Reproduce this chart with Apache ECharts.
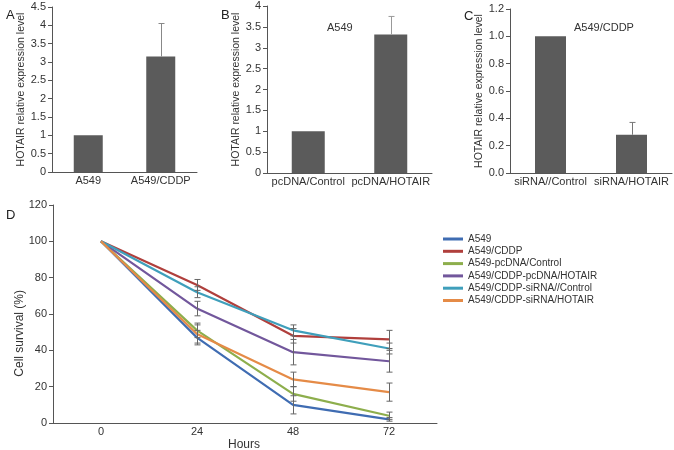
<!DOCTYPE html>
<html>
<head>
<meta charset="utf-8">
<script src="https://cdn.jsdelivr.net/npm/echarts@6/dist/echarts.min.js"></script>
<style>
  html, body { margin: 0; padding: 0; background: #fff; }
  #chart { width: 674px; height: 450px; }
</style>
</head>
<body>
<div id="chart"></div>
<script>
// panel A
var catsA = ["A549", "A549/CDDP"];
var valsA = [1, 3.15];
var errA = [0, 0.9];
// panel B
var catsB = ["pcDNA/Control", "pcDNA/HOTAIR"];
var valsB = [1, 3.32];
var errB = [0, 0.43];
// panel C
var catsC = ["siRNA//Control", "siRNA/HOTAIR"];
var valsC = [1, 0.28];
var errC = [0, 0.09];
// panel D
var hours = ["0", "24", "48", "72"];
var lineNames = ["A549", "A549/CDDP", "A549-pcDNA/Control", "A549/CDDP-pcDNA/HOTAIR",
  "A549/CDDP-siRNA//Control", "A549/CDDP-siRNA/HOTAIR"];
var survA549 = [100, 47, 10, 2];
var survCDDP = [100, 76, 48, 46];
var survPcCtrl = [100, 51, 16, 4];
var survPcHot = [100, 63, 39, 34];
var survSiCtrl = [100, 72, 51, 41];
var survSiHot = [100, 49, 24, 17];
var errA549 = [0, 4, 5, 1];
var errCDDP = [0, 3, 4, 5];
var errPcCtrl = [0, 4, 4, 2];
var errPcHot = [0, 4, 7, 6];
var errSiCtrl = [0, 3, 3, 3];
var errSiHot = [0, 5, 4, 5];
var lineColors = ["#3f6cb2", "#b03f3c", "#8dae4c", "#72579c", "#3f9fbb", "#e58b47"];

var FONT = "'Liberation Sans Narrow', 'Liberation Sans', Arial, sans-serif";
var TXT = "#333";

var myChart = echarts.init(document.getElementById("chart"));

function errRender(both, capW, color) {
  return function (params, api) {
    var x = api.value(0), y = api.value(1), e = api.value(2);
    if (!e) return null;
    var top = api.coord([x, y + e]);
    var bot = api.coord([x, both ? y - e : y]);
    var cx = Math.round(top[0]) + 0.5;
    var st = { stroke: color, lineWidth: 1 };
    var kids = [
      { type: "line", shape: { x1: cx, y1: top[1], x2: cx, y2: bot[1] }, style: st },
      { type: "line", shape: { x1: cx - capW, y1: top[1], x2: cx + capW, y2: top[1] }, style: st }
    ];
    if (both) {
      kids.push({ type: "line", shape: { x1: cx - capW, y1: bot[1], x2: cx + capW, y2: bot[1] }, style: st });
    }
    return { type: "group", children: kids };
  };
}

function pack(vals, errs) {
  return vals.map(function (v, i) { return [i, v, errs[i]]; });
}

function catAxis(idx, cats) {
  return {
    type: "category", gridIndex: idx, data: cats,
    axisLine: { lineStyle: { color: "#555" } },
    axisTick: { length: 4, lineStyle: { color: "#555" } },
    axisLabel: { color: TXT, fontFamily: FONT, fontSize: 11, margin: 3, interval: 0 }
  };
}
function valAxis(idx, max, step, fmt) {
  return {
    type: "value", gridIndex: idx, min: 0, max: max, interval: step,
    axisLine: { show: true, lineStyle: { color: "#555" } },
    axisTick: { show: true, length: 4, lineStyle: { color: "#555" } },
    splitLine: { show: false },
    axisLabel: { color: TXT, fontFamily: FONT, fontSize: 11, margin: 6, formatter: fmt }
  };
}
function yName(gap) {
  return {
    name: "HOTAIR relative expression level", nameLocation: "middle", nameGap: gap,
    nameTextStyle: { color: TXT, fontFamily: FONT, fontSize: 10.5 }
  };
}

var survData = [survA549, survCDDP, survPcCtrl, survPcHot, survSiCtrl, survSiHot];
var survErr = [errA549, errCDDP, errPcCtrl, errPcHot, errSiCtrl, errSiHot];

var series = [
  { type: "bar", xAxisIndex: 0, yAxisIndex: 0, data: valsA, barWidth: 29, itemStyle: { color: "#5b5b5b" } },
  { type: "custom", xAxisIndex: 0, yAxisIndex: 0, data: pack(valsA, errA), renderItem: errRender(false, 3, "#888"), z: 5 },
  { type: "bar", xAxisIndex: 1, yAxisIndex: 1, data: valsB, barWidth: 33, itemStyle: { color: "#5b5b5b" } },
  { type: "custom", xAxisIndex: 1, yAxisIndex: 1, data: pack(valsB, errB), renderItem: errRender(false, 3, "#999"), z: 5 },
  { type: "bar", xAxisIndex: 2, yAxisIndex: 2, data: valsC, barWidth: 31, itemStyle: { color: "#5b5b5b" } },
  { type: "custom", xAxisIndex: 2, yAxisIndex: 2, data: pack(valsC, errC), renderItem: errRender(false, 3, "#777"), z: 5 }
];
survData.forEach(function (d, i) {
  series.push({
    name: lineNames[i], type: "line", xAxisIndex: 3, yAxisIndex: 3, data: d,
    showSymbol: false, symbol: "none", lineStyle: { width: 2.2, color: lineColors[i] },
    itemStyle: { color: lineColors[i] }
  });
});
survData.forEach(function (d, i) {
  series.push({
    type: "custom", xAxisIndex: 3, yAxisIndex: 3, data: pack(d, survErr[i]),
    renderItem: errRender(true, 3, "#666"), z: 6
  });
});

var option = {
  animation: false,
  textStyle: { fontFamily: FONT },
  title: [
    { text: "A", left: 1, top: 4, textStyle: { fontSize: 13, fontWeight: "normal", color: "#222", fontFamily: "Arial, sans-serif" } },
    { text: "B", left: 216, top: 4, textStyle: { fontSize: 13, fontWeight: "normal", color: "#222", fontFamily: "Arial, sans-serif" } },
    { text: "C", left: 459, top: 5, textStyle: { fontSize: 13, fontWeight: "normal", color: "#222", fontFamily: "Arial, sans-serif" } },
    { text: "D", left: 1, top: 204, textStyle: { fontSize: 13, fontWeight: "normal", color: "#222", fontFamily: "Arial, sans-serif" } },
    { text: "A549", left: 322, top: 17, textStyle: { fontSize: 11, fontWeight: "normal", color: TXT, fontFamily: FONT } },
    { text: "A549/CDDP", left: 569, top: 17, textStyle: { fontSize: 11, fontWeight: "normal", color: TXT, fontFamily: FONT } }
  ],
  legend: {
    orient: "vertical", left: 438, top: 228, data: lineNames,
    icon: "rect", itemWidth: 20, itemHeight: 3, itemGap: 0.3,
    textStyle: { color: TXT, fontFamily: FONT, fontSize: 10, lineHeight: 12 }
  },
  graphic: [
    { type: "text", left: 14, top: 290, rotation: Math.PI / 2,
      style: { text: "Cell survival (%)", fill: TXT, font: "12px " + FONT } },
    { type: "text", left: 228, top: 439, style: { text: "Hours", fill: TXT, font: "12px " + FONT } }
  ],
  grid: [
    { left: 52, top: 7, width: 145, height: 165 },
    { left: 267, top: 6, width: 165, height: 167 },
    { left: 510, top: 9, width: 162, height: 164 },
    { left: 53, top: 205, width: 384, height: 218 }
  ],
  xAxis: [catAxis(0, catsA), catAxis(1, catsB), catAxis(2, catsC), catAxis(3, hours)],
  yAxis: [
    Object.assign(valAxis(0, 4.5, 0.5), yName(21)),
    Object.assign(valAxis(1, 4, 0.5), yName(21)),
    Object.assign(valAxis(2, 1.2, 0.2, function (v) { return v.toFixed(1); }), yName(17)),
    valAxis(3, 120, 20)
  ],
  series: series
};
option && myChart.setOption(option);
</script>
</body>
</html>
